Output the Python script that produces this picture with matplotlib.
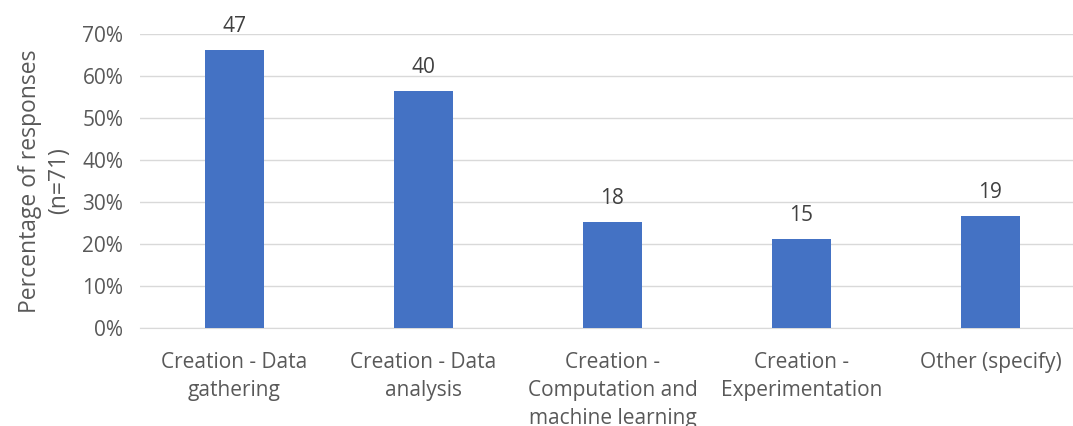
import matplotlib
matplotlib.use("Agg")
from matplotlib import pyplot as plt
from matplotlib.ticker import PercentFormatter
import numpy as np

categories = ["Creation - Data\ngathering", "Creation - Data\nanalysis",
              "Creation -\nComputation and\nmachine learning",
              "Creation -\nExperimentation", "Other (specify)"]
counts = [47, 40, 18, 15, 19]
n_total = 71
pcts = [c / n_total for c in counts]

plt.rcParams['font.family'] = ['Open Sans', 'DejaVu Sans']
grey = "#595959"

fig = plt.figure(figsize=(10.73, 4.26), dpi=100)
ax = fig.add_axes([140 / 1073, 98 / 426, 945 / 1073, 294 / 426])

x = np.arange(len(categories))
bars = ax.bar(x, pcts, width=0.312, color="#4472C4", zorder=3)
for xi, p, c in zip(x, pcts, counts):
    ax.text(xi, p + 0.031, str(c), ha="center", va="bottom", fontsize=15, color="#404040")

ax.set_xlim(-0.5, len(categories) - 0.5)
ax.set_ylim(0, 0.7)
ax.set_yticks(np.arange(0, 0.71, 0.1))
ax.yaxis.set_major_formatter(PercentFormatter(1.0, decimals=0))
ax.set_xticks(x)
ax.set_xticklabels(categories, fontsize=15, color=grey, linespacing=1.45)
ax.tick_params(axis="y", labelsize=15, labelcolor=grey, length=0, pad=12)
ax.tick_params(axis="x", length=0, pad=17)
ax.grid(axis="y", color="#D9D9D9", linewidth=1, zorder=0)
for s in ["top", "right", "left"]:
    ax.spines[s].set_visible(False)
ax.spines["bottom"].set_color("#D9D9D9")
ax.set_ylabel("Percentage of responses\n(n=71)", fontsize=16.5, color=grey, labelpad=8,
              linespacing=1.3)

fig.savefig("out.png", dpi=100)
